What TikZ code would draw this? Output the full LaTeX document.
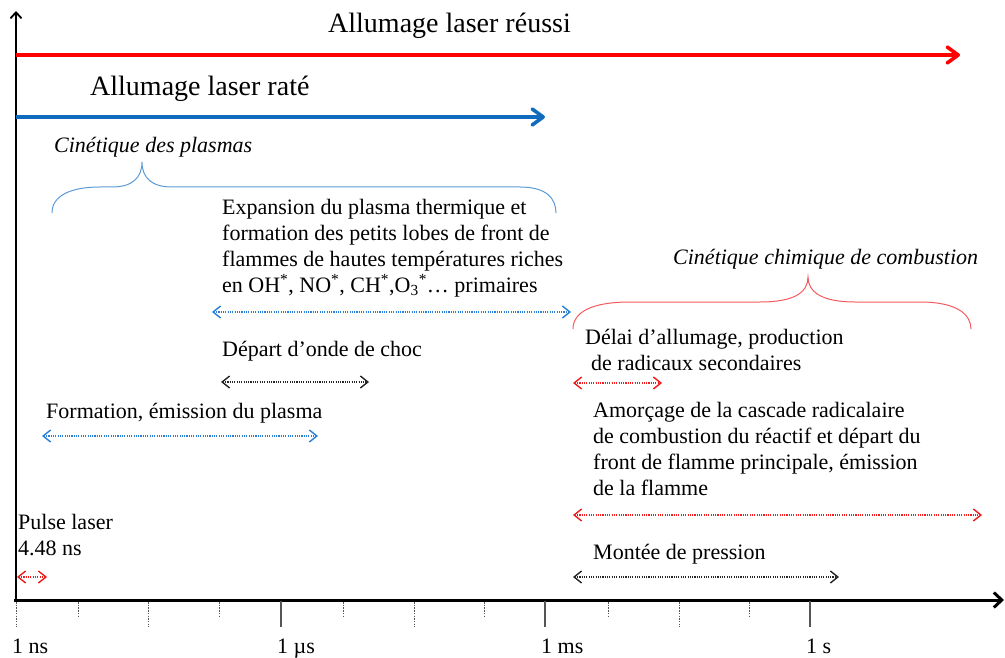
\documentclass[tikz,border=0pt]{standalone}
\usepackage{fontspec}
\setmainfont{Liberation Serif}
\usetikzlibrary{arrows.meta}
\definecolor{axred}{HTML}{FF0000}
\definecolor{axblue}{HTML}{0F6CBD}
\definecolor{dotblue}{HTML}{2A80D8}
\definecolor{braceblue}{HTML}{5B9BD5}
\definecolor{bracered}{HTML}{F45A5E}
\definecolor{dotred}{HTML}{F21C1C}
\definecolor{tickgray}{HTML}{555555}
\begin{document}
\begin{tikzpicture}[x=1pt,y=-1pt,
  big/.style={font=\fontsize{28}{32}\selectfont, inner sep=0pt, anchor=base west},
  txt/.style={font=\fontsize{22}{25.7}\selectfont, inner sep=0pt, anchor=base west, align=left},
  itxt/.style={font=\fontsize{22}{25.7}\selectfont\itshape, inner sep=0pt, anchor=base west},
  durarrow/.style={>={Straight Barb[length=7.5pt,width=12pt,line width=1.4pt]}, <->, line width=1.1pt, dash pattern=on 1.1pt off 1.2pt},
  mainarrow/.style={-{Straight Barb[length=11pt,width=16pt,round]}, line width=3.6pt},
  brace/.style={line width=1pt},
  major/.style={line width=1.2pt, tickgray},
  minor/.style={line width=0.9pt, tickgray, dash pattern=on 1.5pt off 1.2pt}
]
\useasboundingbox (0,0) rectangle (1005,658);

% axes
\coordinate (O) at (16,601);
\coordinate (ytop) at (16,11);
\coordinate (xend) at (1004,600);
\draw[line width=1.8pt, -{Straight Barb[length=6pt,width=11pt]}] (O) -- (ytop);
\draw[line width=3pt, -{Straight Barb[length=8pt,width=15pt]}] (14,600) -- (xend);

% ticks
\draw[minor] (16,602) -- (16,627);
\foreach \x in {281,545,810} \draw[major] (\x,601) -- (\x,627);
\foreach \x in {78,219,343,484,608,749} \draw[minor] (\x,602) -- (\x,618);
\foreach \x in {148,414,679} \draw[minor] (\x,602) -- (\x,627);

\node[txt] (l1) at (12,653) {1 ns};
\node[txt] (l2) at (277,653) {1 µs};
\node[txt] (l3) at (541,653) {1 ms};
\node[txt] (l4) at (806,653) {1 s};

% main arrows
\node[big] (reussi) at (328,33) {Allumage laser réussi};
\coordinate (rs) at (16,55);
\coordinate (re) at (960,55);
\draw[mainarrow, axred] (rs) -- (re);

\node[big] (rate) at (90,96) {Allumage laser raté};
\coordinate (bs) at (16,117);
\coordinate (be) at (545,117);
\draw[mainarrow, axblue] (bs) -- (be);

% plasma kinetics
\node[itxt] (cinp) at (54,153) {Cinétique des plasmas};
\draw[brace, braceblue] (52,213) .. controls (52,196) and (70,187) .. (100,187)
  -- (112,187) .. controls (132,187) and (142,178) .. (142,162)
  .. controls (142,178) and (152,187) .. (172,187)
  -- (520,187) .. controls (546,187) and (556,198) .. (556,213);

\node[txt] (expan) at (222,292) {Expansion du plasma thermique et\\
formation des petits lobes de front de\\
flammes de hautes températures riches\\
en OH\textsuperscript{*}, NO\textsuperscript{*}, CH\textsuperscript{*},O\textsubscript{3}\textsuperscript{*}… primaires};
\coordinate (ea) at (212,312);
\coordinate (eb) at (571,312);
\draw[durarrow, dotblue] (ea) -- (eb);

\node[txt] (choc) at (222,356) {Départ d’onde de choc};
\coordinate (ca) at (221,382);
\coordinate (cb) at (369,382);
\draw[durarrow, black!85] (ca) -- (cb);

\node[txt] (form) at (46,418) {Formation, émission du plasma};
\coordinate (fa) at (42,436);
\coordinate (fb) at (318,436);
\draw[durarrow, dotblue] (fa) -- (fb);

\node[txt] (pulse) at (18,555) {Pulse laser\\4.48 ns};
\coordinate (pa) at (17,577);
\coordinate (pb) at (47,577);
\draw[durarrow, dotred] (pa) -- (pb);

% combustion kinetics
\node[itxt] (cinc) at (673,265) {Cinétique chimique de combustion};
\draw[brace, bracered] (573,329) .. controls (573,313) and (590,302) .. (630,302)
  -- (760,302) .. controls (795,302) and (808,292) .. (808,277)
  .. controls (808,292) and (822,302) .. (855,302)
  -- (920,302) .. controls (958,302) and (971,315) .. (971,329);

\node[txt] (delai) at (585,370) {Délai d’allumage, production\\\hspace*{6pt}de radicaux secondaires};
\coordinate (da) at (573,383);
\coordinate (db) at (662,383);
\draw[durarrow, dotred] (da) -- (db);

\node[txt] (amorc) at (593,495) {Amorçage de la cascade radicalaire\\
de combustion du réactif et départ du\\
front de flamme principale, émission\\
de la flamme};
\coordinate (aa) at (573,515);
\coordinate (ab) at (982,515);
\draw[durarrow, dotred] (aa) -- (ab);

\node[txt] (press) at (593,559) {Montée de pression};
\coordinate (ma) at (573,577);
\coordinate (mb) at (839,577);
\draw[durarrow, black!85] (ma) -- (mb);
\end{tikzpicture}
\end{document}
